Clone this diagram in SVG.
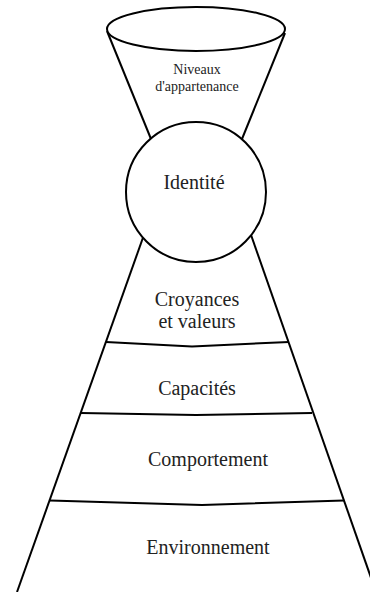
<svg xmlns="http://www.w3.org/2000/svg" width="370" height="592" viewBox="0 0 370 592">
<style>
.s{fill:none;stroke:#000;stroke-width:2}
.c{fill:#fff;stroke:#000;stroke-width:2}
.t{font-family:"Liberation Serif","Times New Roman",serif;font-size:20px;fill:#222;text-anchor:middle}
.sm{font-size:14px}
</style>
<rect width="370" height="592" fill="#fff"/>
<g id="connectors">
<line class="s" x1="107" y1="31" x2="151" y2="139"/>
<line class="s" x1="285" y1="33" x2="242" y2="139"/>
<line class="s" x1="145" y1="232" x2="17" y2="592"/>
<line class="s" x1="250" y1="232" x2="376" y2="592"/>
<polyline class="s" points="106,342 192,346.5 289,342"/>
<polyline class="s" points="81,413 196,415 312,413"/>
<polyline class="s" points="50,500.5 202,505 344,500.5"/>
</g>
<g id="appartenance">
<ellipse class="c" cx="196" cy="29" rx="89" ry="22"/>
<text class="t sm" x="197" y="74">Niveaux</text>
<text class="t sm" x="197" y="91">d'appartenance</text>
</g>
<g id="identite">
<circle class="c" cx="196" cy="192" r="70"/>
<text class="t" x="194" y="189">Identité</text>
</g>
<g id="croyances">
<text class="t" x="197" y="306">Croyances</text>
<text class="t" x="197" y="328">et valeurs</text>
</g>
<g id="capacites">
<text class="t" x="197" y="395">Capacités</text>
</g>
<g id="comportement">
<text class="t" x="208" y="466">Comportement</text>
</g>
<g id="environnement">
<text class="t" x="208" y="554">Environnement</text>
</g>
</svg>
